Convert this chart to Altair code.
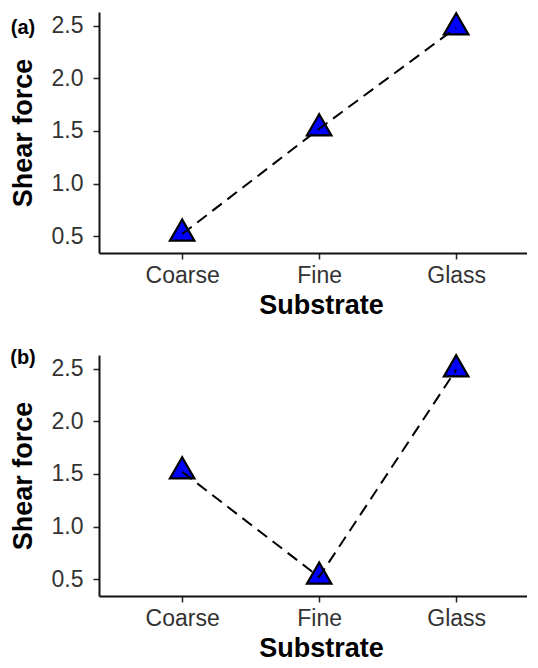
import altair as alt
import pandas as pd

substrates = ["Coarse", "Fine", "Glass"]
force_a = [0.52, 1.52, 2.48]
force_b = [1.52, 0.52, 2.49]
y_ticks = [0.5, 1.0, 1.5, 2.0, 2.5]

FONT = "Liberation Sans"


def panel(values, label, label_y):
    df = pd.DataFrame({"Substrate": substrates, "force": values})
    x = alt.X(
        "Substrate:N",
        sort=substrates,
        scale=alt.Scale(type="point", padding=0.562, align=0.54),
        axis=alt.Axis(
            title="Substrate",
            labelAngle=0,
            labelFontSize=23,
            labelColor="#333333",
            labelFont=FONT,
            labelPadding=5,
            tickSize=6,
            tickWidth=1.5,
            tickColor="#222222",
            domainColor="#111111",
            domainWidth=2,
            titleFontSize=27,
            titleFont=FONT,
            titleFontWeight="bold",
            titleColor="#000000",
            titlePadding=5,
            titleX=222,
            grid=False,
        ),
    )
    y = alt.Y(
        "force:Q",
        scale=alt.Scale(domain=[0.34, 2.63], nice=False, zero=False),
        axis=alt.Axis(
            title="Shear force",
            values=y_ticks,
            format=".1f",
            labelFontSize=23,
            labelColor="#333333",
            labelFont=FONT,
            labelPadding=10,
            tickSize=6,
            tickWidth=1.5,
            tickColor="#222222",
            domainColor="#111111",
            domainWidth=2,
            titleFontSize=27,
            titleFont=FONT,
            titleFontWeight="bold",
            titleColor="#000000",
            titlePadding=14,
            grid=False,
        ),
    )
    base = alt.Chart(df)
    pts = base.mark_point(
        shape="triangle-up",
        filled=True,
        fill="#0000FF",
        stroke="#000000",
        strokeWidth=2.2,
        size=600,
        opacity=1,
        yOffset=-4,
    ).encode(x=x, y=y)
    line = base.mark_line(
        color="#000000", strokeWidth=2, strokeDash=[12, 7]
    ).encode(x=x, y=y)
    txt = alt.Chart(pd.DataFrame({"t": [label]})).mark_text(
        font=FONT, fontSize=20, fontWeight="bold", align="center", baseline="middle", color="#000000"
    ).encode(text="t:N", x=alt.value(-76), y=alt.value(label_y))
    return alt.layer(pts, line, txt).properties(
        width=428, height=241, view=alt.ViewBackground(stroke="transparent", strokeWidth=0)
    )


chart = alt.vconcat(
    panel(force_a, "(a)", 16),
    panel(force_b, "(b)", 3),
    spacing=30,
).properties(
    padding={"left": 1, "top": 0, "right": 0, "bottom": 0}
).configure_view(stroke="transparent", strokeWidth=0).configure(background="white")

chart.save("out.html", embed_options={"renderer": "svg", "actions": False})
